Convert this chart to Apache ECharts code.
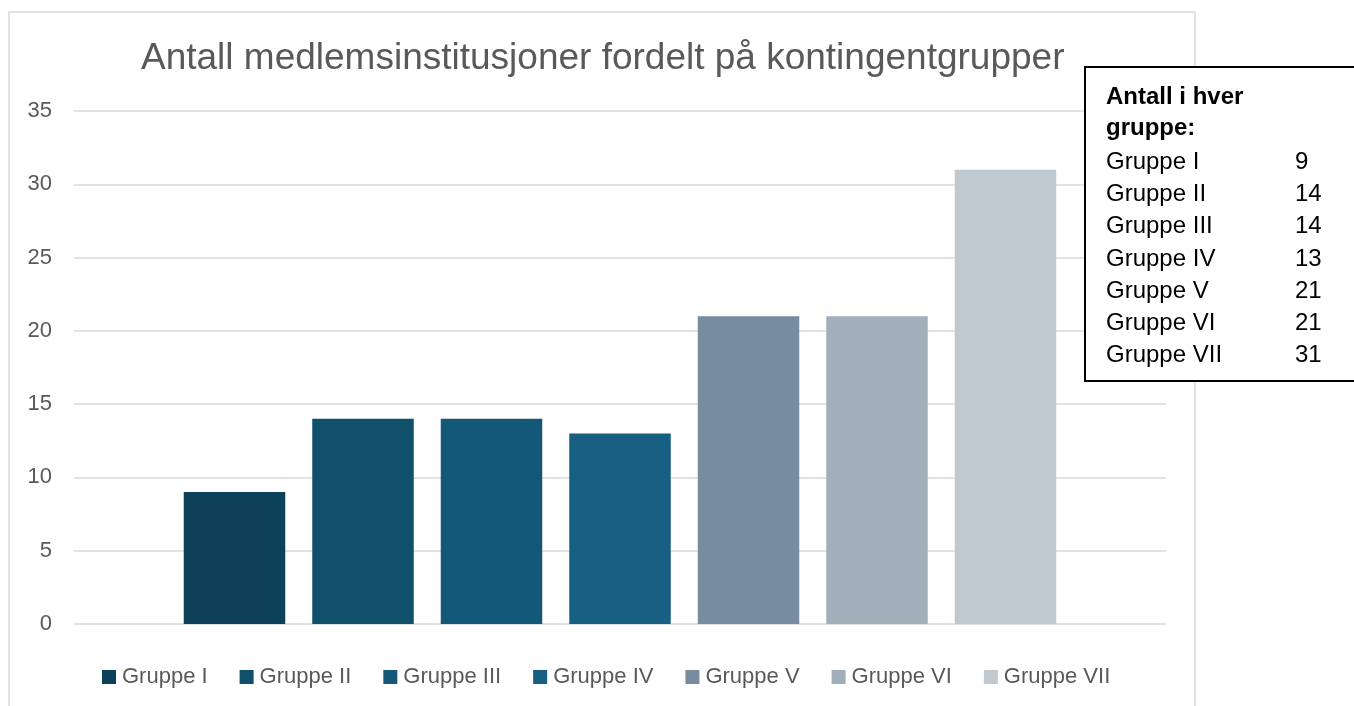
<!DOCTYPE html>
<html>
<head>
<meta charset="utf-8">
<title>Antall medlemsinstitusjoner fordelt på kontingentgrupper</title>
<script src="https://cdn.jsdelivr.net/npm/echarts@6/dist/echarts.min.js"></script>
<style>
  html, body { margin: 0; padding: 0; background: #fff; }
  #chart { width: 1354px; height: 706px; }
</style>
</head>
<body>
<div id="chart"></div>
<script>
  // grupper og antall
  var groups = ['Gruppe I', 'Gruppe II', 'Gruppe III', 'Gruppe IV', 'Gruppe V', 'Gruppe VI', 'Gruppe VII'];
  var counts = [9, 14, 14, 13, 21, 21, 31];
  var barColors = ['#0d4059', '#10506b', '#145877', '#176082', '#778ca1', '#a2afbb', '#c0c8d0'];
  var yTicks = { min: 0, max: 35, interval: 5 };
  var titleText = 'Antall medlemsinstitusjoner fordelt på kontingentgrupper';
  var boxHeading = ['Antall i hver', 'gruppe:'];

  var chart = echarts.init(document.getElementById('chart'));
  var fontFamily = '"Liberation Sans", Arial, sans-serif';

  var series = groups.map(function (name, i) {
    return {
      name: name,
      type: 'bar',
      data: [counts[i]],
      itemStyle: { color: barColors[i] },
      barGap: '26.6%',
      barCategoryGap: '20.1%'
    };
  });

  // tekstboks til høyre
  var boxChildren = [{
    type: 'rect',
    z: 100,
    shape: { x: 1085, y: 67, width: 300, height: 314 },
    style: { fill: '#fff', stroke: '#000', lineWidth: 2 }
  }];
  boxHeading.forEach(function (t, i) {
    boxChildren.push({
      type: 'text',
      z: 101,
      style: {
        x: 1106, y: 97 + i * 31.5, text: t,
        font: 'bold 24px ' + fontFamily, fill: '#000', verticalAlign: 'middle'
      }
    });
  });
  groups.forEach(function (g, i) {
    var y = 162 + i * 32.3;
    boxChildren.push({
      type: 'text',
      z: 101,
      style: { x: 1106, y: y, text: g, font: '24px ' + fontFamily, fill: '#000', verticalAlign: 'middle' }
    });
    boxChildren.push({
      type: 'text',
      z: 101,
      style: { x: 1295, y: y, text: String(counts[i]), font: '24px ' + fontFamily, fill: '#000', verticalAlign: 'middle' }
    });
  });

  var option = {
    animation: false,
    textStyle: { fontFamily: fontFamily },
    title: {
      text: titleText,
      left: 136,
      top: 35,
      textStyle: { fontSize: 37, fontWeight: 'normal', color: '#595959', fontFamily: fontFamily }
    },
    legend: {
      data: groups,
      left: 97,
      top: 661,
      itemWidth: 14,
      itemHeight: 14,
      itemGap: 32,
      icon: 'rect',
      textStyle: { fontSize: 22, color: '#595959', fontFamily: fontFamily, padding: [0, 0, 0, 1] }
    },
    grid: { left: 74, right: 188, top: 111, bottom: 82, containLabel: false },
    xAxis: {
      type: 'category',
      data: [''],
      axisLine: { show: false },
      axisTick: { show: false },
      axisLabel: { show: false }
    },
    yAxis: {
      type: 'value',
      min: yTicks.min,
      max: yTicks.max,
      interval: yTicks.interval,
      axisLine: { show: false },
      axisTick: { show: false },
      axisLabel: { fontSize: 22, color: '#595959', margin: 22, fontFamily: fontFamily },
      splitLine: { lineStyle: { color: '#d9d9d9', width: 1.5 } }
    },
    series: series,
    graphic: [
      {
        type: 'rect',
        z: -1,
        shape: { x: 9, y: 12, width: 1186, height: 720 },
        style: { fill: 'none', stroke: '#d9d9d9', lineWidth: 1.5 }
      },
      { type: 'group', z: 100, children: boxChildren }
    ]
  };

  chart.setOption(option);
</script>
</body>
</html>
